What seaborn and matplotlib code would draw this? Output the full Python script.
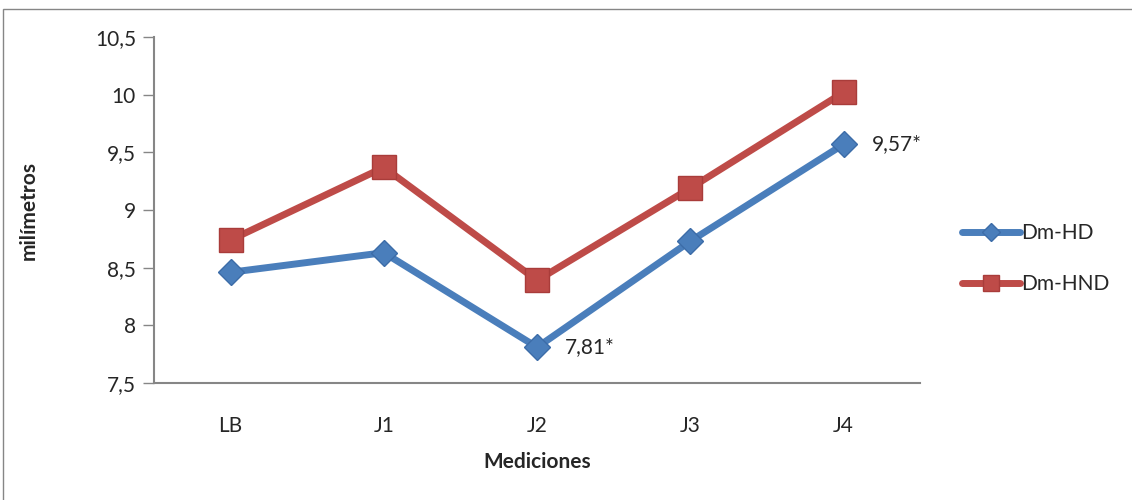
import matplotlib.pyplot as plt
import matplotlib.patches as mpatches
import pandas as pd
import seaborn as sns

# %%
mediciones = ["LB", "J1", "J2", "J3", "J4"]
dm_hd = [8.46, 8.63, 7.81, 8.73, 9.57]
dm_hnd = [8.74, 9.37, 8.39, 9.19, 10.02]
y_ticks = [7.5, 8, 8.5, 9, 9.5, 10, 10.5]
y_tick_labels = ["7,5", "8", "8,5", "9", "9,5", "10", "10,5"]

df = pd.DataFrame({
    'medicion': mediciones * 2,
    'valor': dm_hd + dm_hnd,
    'serie': ['Dm-HD'] * 5 + ['Dm-HND'] * 5,
})

# %%
sns.set_style('white')
plt.rcParams['font.family'] = ['Lato', 'DejaVu Sans']

fig = plt.figure(figsize=(11.32, 5.0), dpi=100)
ax = fig.add_axes([0.136, 0.234, 0.677, 0.692])

blue = '#4A7EBB'
red = '#BE4B48'

sns.lineplot(data=df[df['serie'] == 'Dm-HD'], x='medicion', y='valor', ax=ax,
             color=blue, linewidth=5, marker='D', markersize=13,
             markeredgecolor='#3C6CA8', markeredgewidth=1, label='Dm-HD',
             solid_capstyle='round')
sns.lineplot(data=df[df['serie'] == 'Dm-HND'], x='medicion', y='valor', ax=ax,
             color=red, linewidth=5, marker='s', markersize=17,
             markeredgecolor='#A93C3A', markeredgewidth=1, label='Dm-HND',
             solid_capstyle='round')

ax.set_xlim(-0.5, 4.5)
ax.set_ylim(7.5, 10.5)
ax.set_yticks(y_ticks)
ax.set_yticklabels(y_tick_labels)
ax.tick_params(axis='y', length=8, width=1, color='#868686', left=True, labelsize=15, pad=5)
ax.tick_params(axis='x', length=0, labelsize=15, pad=24)

for side in ['top', 'right']:
    ax.spines[side].set_visible(False)
for side in ['left', 'bottom']:
    ax.spines[side].set_color('#868686')
    ax.spines[side].set_linewidth(1.5)

ax.set_xlabel('Mediciones', fontsize=15, fontweight='bold', labelpad=11)
ax.set_ylabel('milímetros', fontsize=15, fontweight='bold', labelpad=40)

ax.annotate('7,81*', xy=(2, dm_hd[2]), xytext=(20, 0), textcoords='offset points',
            fontsize=15, va='center', ha='left')
ax.annotate('9,57*', xy=(4, dm_hd[4]), xytext=(20, 0), textcoords='offset points',
            fontsize=15, va='center', ha='left')

leg = ax.legend(loc='center left', bbox_to_anchor=(1.03, 0.36), frameon=False,
                fontsize=15, handlelength=2.8, handletextpad=0.05,
                labelspacing=1.5, numpoints=1, markerscale=0.7)

# outer chart frame
fig.patches.append(mpatches.Rectangle((3 / 1132, -0.1), 1.1, 1.1 - 9 / 500,
                                      transform=fig.transFigure, fill=False,
                                      edgecolor='#868686', linewidth=1))

plt.savefig('out.png', dpi=100)
